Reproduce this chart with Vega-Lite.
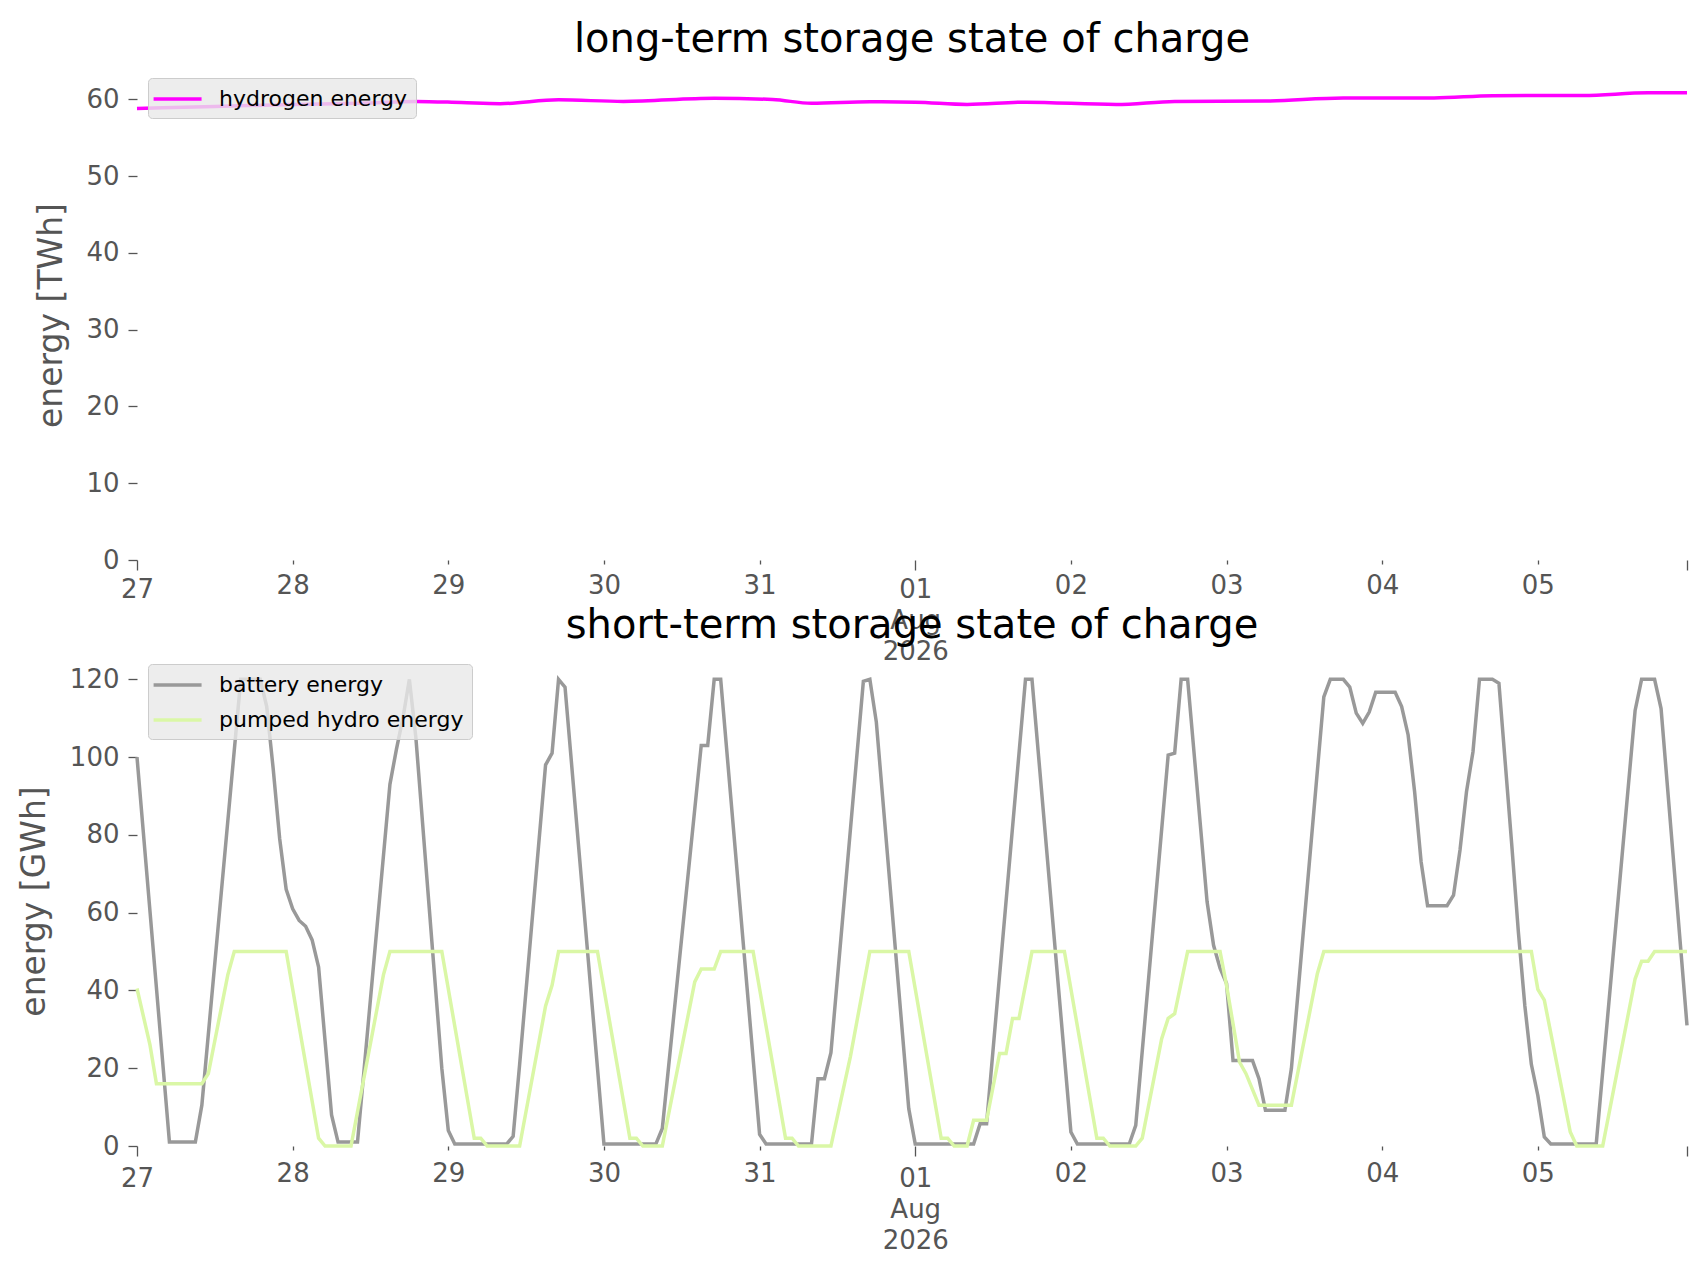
{
  "$schema": "https://vega.github.io/schema/vega-lite/v6.json",
  "background": "white",
  "padding": {"left": 18, "top": 19, "right": 5, "bottom": 5},
  "config": {
    "font": "DejaVu Sans",
    "view": {"stroke": null},
    "axis": {
      "domain": false, "grid": false,
      "labelColor": "#555555", "tickColor": "#555555", "titleColor": "#555555",
      "labelFontSize": 26, "titleFontSize": 33, "titleFontWeight": "normal",
      "labelFont": "DejaVu Sans", "titleFont": "DejaVu Sans", "tickWidth": 1.3
    },
    "title": {"fontSize": 40, "fontWeight": "normal", "color": "#000000", "font": "DejaVu Sans", "anchor": "middle", "baseline": "alphabetic", "offset": 10.5},
    "legend": {
      "title": null, "orient": "none", "legendX": 11, "legendY": 8,
      "fillColor": "rgba(232,232,232,0.8)", "strokeColor": "#cccccc", "cornerRadius": 4,
      "padding": 8, "symbolType": "M-1.4,0H2.96", "symbolSize": 484, "symbolStrokeWidth": 3.5,
      "labelFontSize": 22, "labelColor": "#000000", "labelFont": "DejaVu Sans",
      "labelOffset": 37, "rowPadding": 11, "labelLimit": 600
    }
  },
  "datasets": {
    "long": [
      {"time": "2026-07-27T00:00:00Z", "series": "hydrogen energy", "energy": 58.83},
      {"time": "2026-07-27T12:00:00Z", "series": "hydrogen energy", "energy": 59.1},
      {"time": "2026-07-28T00:00:00Z", "series": "hydrogen energy", "energy": 59.35},
      {"time": "2026-07-28T12:00:00Z", "series": "hydrogen energy", "energy": 59.55},
      {"time": "2026-07-28T19:00:00Z", "series": "hydrogen energy", "energy": 59.75},
      {"time": "2026-07-29T02:00:00Z", "series": "hydrogen energy", "energy": 59.6},
      {"time": "2026-07-29T08:00:00Z", "series": "hydrogen energy", "energy": 59.45},
      {"time": "2026-07-29T17:00:00Z", "series": "hydrogen energy", "energy": 59.95},
      {"time": "2026-07-30T03:00:00Z", "series": "hydrogen energy", "energy": 59.75},
      {"time": "2026-07-30T17:00:00Z", "series": "hydrogen energy", "energy": 60.15},
      {"time": "2026-07-31T02:00:00Z", "series": "hydrogen energy", "energy": 60.0},
      {"time": "2026-07-31T08:00:00Z", "series": "hydrogen energy", "energy": 59.5},
      {"time": "2026-07-31T17:00:00Z", "series": "hydrogen energy", "energy": 59.7},
      {"time": "2026-08-01T00:00:00Z", "series": "hydrogen energy", "energy": 59.65},
      {"time": "2026-08-01T08:00:00Z", "series": "hydrogen energy", "energy": 59.35},
      {"time": "2026-08-01T17:00:00Z", "series": "hydrogen energy", "energy": 59.65},
      {"time": "2026-08-02T07:00:00Z", "series": "hydrogen energy", "energy": 59.35},
      {"time": "2026-08-02T16:00:00Z", "series": "hydrogen energy", "energy": 59.75},
      {"time": "2026-08-03T06:00:00Z", "series": "hydrogen energy", "energy": 59.8},
      {"time": "2026-08-03T18:00:00Z", "series": "hydrogen energy", "energy": 60.2},
      {"time": "2026-08-04T08:00:00Z", "series": "hydrogen energy", "energy": 60.2},
      {"time": "2026-08-04T17:00:00Z", "series": "hydrogen energy", "energy": 60.5},
      {"time": "2026-08-05T07:00:00Z", "series": "hydrogen energy", "energy": 60.52},
      {"time": "2026-08-05T17:00:00Z", "series": "hydrogen energy", "energy": 60.87},
      {"time": "2026-08-05T23:00:00Z", "series": "hydrogen energy", "energy": 60.87}
    ],
    "short": [
      {"time": "2026-07-27T00:00:00Z", "series": "battery energy", "energy": 100},
      {"time": "2026-07-27T05:00:00Z", "series": "battery energy", "energy": 1},
      {"time": "2026-07-27T09:00:00Z", "series": "battery energy", "energy": 1},
      {"time": "2026-07-27T10:00:00Z", "series": "battery energy", "energy": 10.5},
      {"time": "2026-07-27T16:00:00Z", "series": "battery energy", "energy": 120},
      {"time": "2026-07-27T19:00:00Z", "series": "battery energy", "energy": 120},
      {"time": "2026-07-27T20:00:00Z", "series": "battery energy", "energy": 113},
      {"time": "2026-07-27T21:00:00Z", "series": "battery energy", "energy": 97},
      {"time": "2026-07-27T22:00:00Z", "series": "battery energy", "energy": 79},
      {"time": "2026-07-27T23:00:00Z", "series": "battery energy", "energy": 66},
      {"time": "2026-07-28T00:00:00Z", "series": "battery energy", "energy": 61},
      {"time": "2026-07-28T01:00:00Z", "series": "battery energy", "energy": 58},
      {"time": "2026-07-28T02:00:00Z", "series": "battery energy", "energy": 56.5},
      {"time": "2026-07-28T03:00:00Z", "series": "battery energy", "energy": 53},
      {"time": "2026-07-28T04:00:00Z", "series": "battery energy", "energy": 46},
      {"time": "2026-07-28T05:00:00Z", "series": "battery energy", "energy": 27},
      {"time": "2026-07-28T06:00:00Z", "series": "battery energy", "energy": 8},
      {"time": "2026-07-28T07:00:00Z", "series": "battery energy", "energy": 1},
      {"time": "2026-07-28T10:00:00Z", "series": "battery energy", "energy": 1},
      {"time": "2026-07-28T15:00:00Z", "series": "battery energy", "energy": 93},
      {"time": "2026-07-28T16:00:00Z", "series": "battery energy", "energy": 102},
      {"time": "2026-07-28T17:00:00Z", "series": "battery energy", "energy": 110},
      {"time": "2026-07-28T18:00:00Z", "series": "battery energy", "energy": 120},
      {"time": "2026-07-28T19:00:00Z", "series": "battery energy", "energy": 105},
      {"time": "2026-07-28T23:00:00Z", "series": "battery energy", "energy": 20},
      {"time": "2026-07-29T00:00:00Z", "series": "battery energy", "energy": 4},
      {"time": "2026-07-29T01:00:00Z", "series": "battery energy", "energy": 0.5},
      {"time": "2026-07-29T09:00:00Z", "series": "battery energy", "energy": 0.5},
      {"time": "2026-07-29T10:00:00Z", "series": "battery energy", "energy": 2.5},
      {"time": "2026-07-29T11:00:00Z", "series": "battery energy", "energy": 21},
      {"time": "2026-07-29T15:00:00Z", "series": "battery energy", "energy": 98},
      {"time": "2026-07-29T16:00:00Z", "series": "battery energy", "energy": 101},
      {"time": "2026-07-29T17:00:00Z", "series": "battery energy", "energy": 120},
      {"time": "2026-07-29T18:00:00Z", "series": "battery energy", "energy": 118},
      {"time": "2026-07-30T00:00:00Z", "series": "battery energy", "energy": 0.5},
      {"time": "2026-07-30T08:00:00Z", "series": "battery energy", "energy": 0.5},
      {"time": "2026-07-30T09:00:00Z", "series": "battery energy", "energy": 4.5},
      {"time": "2026-07-30T15:00:00Z", "series": "battery energy", "energy": 103},
      {"time": "2026-07-30T16:00:00Z", "series": "battery energy", "energy": 103},
      {"time": "2026-07-30T17:00:00Z", "series": "battery energy", "energy": 120},
      {"time": "2026-07-30T18:00:00Z", "series": "battery energy", "energy": 120},
      {"time": "2026-07-31T00:00:00Z", "series": "battery energy", "energy": 3},
      {"time": "2026-07-31T01:00:00Z", "series": "battery energy", "energy": 0.5},
      {"time": "2026-07-31T08:00:00Z", "series": "battery energy", "energy": 0.5},
      {"time": "2026-07-31T09:00:00Z", "series": "battery energy", "energy": 17.3},
      {"time": "2026-07-31T10:00:00Z", "series": "battery energy", "energy": 17.3},
      {"time": "2026-07-31T11:00:00Z", "series": "battery energy", "energy": 24},
      {"time": "2026-07-31T16:00:00Z", "series": "battery energy", "energy": 119.5},
      {"time": "2026-07-31T17:00:00Z", "series": "battery energy", "energy": 120},
      {"time": "2026-07-31T18:00:00Z", "series": "battery energy", "energy": 109},
      {"time": "2026-07-31T23:00:00Z", "series": "battery energy", "energy": 9.6},
      {"time": "2026-08-01T00:00:00Z", "series": "battery energy", "energy": 0.5},
      {"time": "2026-08-01T09:00:00Z", "series": "battery energy", "energy": 0.5},
      {"time": "2026-08-01T10:00:00Z", "series": "battery energy", "energy": 5.7},
      {"time": "2026-08-01T11:00:00Z", "series": "battery energy", "energy": 5.7},
      {"time": "2026-08-01T17:00:00Z", "series": "battery energy", "energy": 120},
      {"time": "2026-08-01T18:00:00Z", "series": "battery energy", "energy": 120},
      {"time": "2026-08-02T00:00:00Z", "series": "battery energy", "energy": 3.6},
      {"time": "2026-08-02T01:00:00Z", "series": "battery energy", "energy": 0.5},
      {"time": "2026-08-02T09:00:00Z", "series": "battery energy", "energy": 0.5},
      {"time": "2026-08-02T10:00:00Z", "series": "battery energy", "energy": 5.3},
      {"time": "2026-08-02T15:00:00Z", "series": "battery energy", "energy": 100.5},
      {"time": "2026-08-02T16:00:00Z", "series": "battery energy", "energy": 101},
      {"time": "2026-08-02T17:00:00Z", "series": "battery energy", "energy": 120},
      {"time": "2026-08-02T18:00:00Z", "series": "battery energy", "energy": 120},
      {"time": "2026-08-02T21:00:00Z", "series": "battery energy", "energy": 62.8},
      {"time": "2026-08-02T22:00:00Z", "series": "battery energy", "energy": 51.6},
      {"time": "2026-08-02T23:00:00Z", "series": "battery energy", "energy": 45.7},
      {"time": "2026-08-03T00:00:00Z", "series": "battery energy", "energy": 41.8},
      {"time": "2026-08-03T01:00:00Z", "series": "battery energy", "energy": 22},
      {"time": "2026-08-03T04:00:00Z", "series": "battery energy", "energy": 22},
      {"time": "2026-08-03T05:00:00Z", "series": "battery energy", "energy": 17.3},
      {"time": "2026-08-03T06:00:00Z", "series": "battery energy", "energy": 9.2},
      {"time": "2026-08-03T09:00:00Z", "series": "battery energy", "energy": 9.2},
      {"time": "2026-08-03T10:00:00Z", "series": "battery energy", "energy": 19.9},
      {"time": "2026-08-03T15:00:00Z", "series": "battery energy", "energy": 115.5},
      {"time": "2026-08-03T16:00:00Z", "series": "battery energy", "energy": 120},
      {"time": "2026-08-03T18:00:00Z", "series": "battery energy", "energy": 120},
      {"time": "2026-08-03T19:00:00Z", "series": "battery energy", "energy": 118},
      {"time": "2026-08-03T20:00:00Z", "series": "battery energy", "energy": 111.3},
      {"time": "2026-08-03T21:00:00Z", "series": "battery energy", "energy": 108.7},
      {"time": "2026-08-03T22:00:00Z", "series": "battery energy", "energy": 111.6},
      {"time": "2026-08-03T23:00:00Z", "series": "battery energy", "energy": 116.7},
      {"time": "2026-08-04T02:00:00Z", "series": "battery energy", "energy": 116.7},
      {"time": "2026-08-04T03:00:00Z", "series": "battery energy", "energy": 113},
      {"time": "2026-08-04T04:00:00Z", "series": "battery energy", "energy": 105.7},
      {"time": "2026-08-04T05:00:00Z", "series": "battery energy", "energy": 91.1},
      {"time": "2026-08-04T06:00:00Z", "series": "battery energy", "energy": 73.1},
      {"time": "2026-08-04T07:00:00Z", "series": "battery energy", "energy": 61.8},
      {"time": "2026-08-04T10:00:00Z", "series": "battery energy", "energy": 61.8},
      {"time": "2026-08-04T11:00:00Z", "series": "battery energy", "energy": 64.5},
      {"time": "2026-08-04T12:00:00Z", "series": "battery energy", "energy": 76.1},
      {"time": "2026-08-04T13:00:00Z", "series": "battery energy", "energy": 91.1},
      {"time": "2026-08-04T14:00:00Z", "series": "battery energy", "energy": 101.4},
      {"time": "2026-08-04T15:00:00Z", "series": "battery energy", "energy": 120},
      {"time": "2026-08-04T17:00:00Z", "series": "battery energy", "energy": 120},
      {"time": "2026-08-04T18:00:00Z", "series": "battery energy", "energy": 119},
      {"time": "2026-08-04T19:00:00Z", "series": "battery energy", "energy": 98},
      {"time": "2026-08-04T20:00:00Z", "series": "battery energy", "energy": 77},
      {"time": "2026-08-04T21:00:00Z", "series": "battery energy", "energy": 55},
      {"time": "2026-08-04T22:00:00Z", "series": "battery energy", "energy": 36},
      {"time": "2026-08-04T23:00:00Z", "series": "battery energy", "energy": 21},
      {"time": "2026-08-05T00:00:00Z", "series": "battery energy", "energy": 13},
      {"time": "2026-08-05T01:00:00Z", "series": "battery energy", "energy": 2.3},
      {"time": "2026-08-05T02:00:00Z", "series": "battery energy", "energy": 0.5},
      {"time": "2026-08-05T09:00:00Z", "series": "battery energy", "energy": 0.5},
      {"time": "2026-08-05T15:00:00Z", "series": "battery energy", "energy": 112},
      {"time": "2026-08-05T16:00:00Z", "series": "battery energy", "energy": 120},
      {"time": "2026-08-05T18:00:00Z", "series": "battery energy", "energy": 120},
      {"time": "2026-08-05T19:00:00Z", "series": "battery energy", "energy": 112.5},
      {"time": "2026-08-05T23:00:00Z", "series": "battery energy", "energy": 31},
      {"time": "2026-07-27T00:00:00Z", "series": "pumped hydro energy", "energy": 40.5},
      {"time": "2026-07-27T02:00:00Z", "series": "pumped hydro energy", "energy": 26},
      {"time": "2026-07-27T03:00:00Z", "series": "pumped hydro energy", "energy": 16},
      {"time": "2026-07-27T10:00:00Z", "series": "pumped hydro energy", "energy": 16},
      {"time": "2026-07-27T11:00:00Z", "series": "pumped hydro energy", "energy": 18.6},
      {"time": "2026-07-27T14:00:00Z", "series": "pumped hydro energy", "energy": 44},
      {"time": "2026-07-27T15:00:00Z", "series": "pumped hydro energy", "energy": 50},
      {"time": "2026-07-27T23:00:00Z", "series": "pumped hydro energy", "energy": 50},
      {"time": "2026-07-28T04:00:00Z", "series": "pumped hydro energy", "energy": 2},
      {"time": "2026-07-28T05:00:00Z", "series": "pumped hydro energy", "energy": 0},
      {"time": "2026-07-28T09:00:00Z", "series": "pumped hydro energy", "energy": 0},
      {"time": "2026-07-28T14:00:00Z", "series": "pumped hydro energy", "energy": 44},
      {"time": "2026-07-28T15:00:00Z", "series": "pumped hydro energy", "energy": 50},
      {"time": "2026-07-28T23:00:00Z", "series": "pumped hydro energy", "energy": 50},
      {"time": "2026-07-29T04:00:00Z", "series": "pumped hydro energy", "energy": 2},
      {"time": "2026-07-29T05:00:00Z", "series": "pumped hydro energy", "energy": 2},
      {"time": "2026-07-29T06:00:00Z", "series": "pumped hydro energy", "energy": 0},
      {"time": "2026-07-29T11:00:00Z", "series": "pumped hydro energy", "energy": 0},
      {"time": "2026-07-29T15:00:00Z", "series": "pumped hydro energy", "energy": 36},
      {"time": "2026-07-29T16:00:00Z", "series": "pumped hydro energy", "energy": 41.3},
      {"time": "2026-07-29T17:00:00Z", "series": "pumped hydro energy", "energy": 50},
      {"time": "2026-07-29T23:00:00Z", "series": "pumped hydro energy", "energy": 50},
      {"time": "2026-07-30T04:00:00Z", "series": "pumped hydro energy", "energy": 2},
      {"time": "2026-07-30T05:00:00Z", "series": "pumped hydro energy", "energy": 2},
      {"time": "2026-07-30T06:00:00Z", "series": "pumped hydro energy", "energy": 0},
      {"time": "2026-07-30T09:00:00Z", "series": "pumped hydro energy", "energy": 0},
      {"time": "2026-07-30T14:00:00Z", "series": "pumped hydro energy", "energy": 42.2},
      {"time": "2026-07-30T15:00:00Z", "series": "pumped hydro energy", "energy": 45.5},
      {"time": "2026-07-30T17:00:00Z", "series": "pumped hydro energy", "energy": 45.5},
      {"time": "2026-07-30T18:00:00Z", "series": "pumped hydro energy", "energy": 50},
      {"time": "2026-07-30T23:00:00Z", "series": "pumped hydro energy", "energy": 50},
      {"time": "2026-07-31T04:00:00Z", "series": "pumped hydro energy", "energy": 2},
      {"time": "2026-07-31T05:00:00Z", "series": "pumped hydro energy", "energy": 2},
      {"time": "2026-07-31T06:00:00Z", "series": "pumped hydro energy", "energy": 0},
      {"time": "2026-07-31T11:00:00Z", "series": "pumped hydro energy", "energy": 0},
      {"time": "2026-07-31T14:00:00Z", "series": "pumped hydro energy", "energy": 23},
      {"time": "2026-07-31T17:00:00Z", "series": "pumped hydro energy", "energy": 50},
      {"time": "2026-07-31T23:00:00Z", "series": "pumped hydro energy", "energy": 50},
      {"time": "2026-08-01T04:00:00Z", "series": "pumped hydro energy", "energy": 2},
      {"time": "2026-08-01T05:00:00Z", "series": "pumped hydro energy", "energy": 2},
      {"time": "2026-08-01T06:00:00Z", "series": "pumped hydro energy", "energy": 0},
      {"time": "2026-08-01T08:00:00Z", "series": "pumped hydro energy", "energy": 0},
      {"time": "2026-08-01T09:00:00Z", "series": "pumped hydro energy", "energy": 6.6},
      {"time": "2026-08-01T11:00:00Z", "series": "pumped hydro energy", "energy": 6.6},
      {"time": "2026-08-01T13:00:00Z", "series": "pumped hydro energy", "energy": 23.8},
      {"time": "2026-08-01T14:00:00Z", "series": "pumped hydro energy", "energy": 23.8},
      {"time": "2026-08-01T15:00:00Z", "series": "pumped hydro energy", "energy": 32.8},
      {"time": "2026-08-01T16:00:00Z", "series": "pumped hydro energy", "energy": 32.8},
      {"time": "2026-08-01T18:00:00Z", "series": "pumped hydro energy", "energy": 50},
      {"time": "2026-08-01T23:00:00Z", "series": "pumped hydro energy", "energy": 50},
      {"time": "2026-08-02T04:00:00Z", "series": "pumped hydro energy", "energy": 2},
      {"time": "2026-08-02T05:00:00Z", "series": "pumped hydro energy", "energy": 2},
      {"time": "2026-08-02T06:00:00Z", "series": "pumped hydro energy", "energy": 0},
      {"time": "2026-08-02T10:00:00Z", "series": "pumped hydro energy", "energy": 0},
      {"time": "2026-08-02T11:00:00Z", "series": "pumped hydro energy", "energy": 2},
      {"time": "2026-08-02T14:00:00Z", "series": "pumped hydro energy", "energy": 27.6},
      {"time": "2026-08-02T15:00:00Z", "series": "pumped hydro energy", "energy": 32.8},
      {"time": "2026-08-02T16:00:00Z", "series": "pumped hydro energy", "energy": 34},
      {"time": "2026-08-02T18:00:00Z", "series": "pumped hydro energy", "energy": 50},
      {"time": "2026-08-02T23:00:00Z", "series": "pumped hydro energy", "energy": 50},
      {"time": "2026-08-03T00:00:00Z", "series": "pumped hydro energy", "energy": 41.3},
      {"time": "2026-08-03T02:00:00Z", "series": "pumped hydro energy", "energy": 21.6},
      {"time": "2026-08-03T03:00:00Z", "series": "pumped hydro energy", "energy": 18.6},
      {"time": "2026-08-03T05:00:00Z", "series": "pumped hydro energy", "energy": 10.5},
      {"time": "2026-08-03T10:00:00Z", "series": "pumped hydro energy", "energy": 10.5},
      {"time": "2026-08-03T14:00:00Z", "series": "pumped hydro energy", "energy": 44.3},
      {"time": "2026-08-03T15:00:00Z", "series": "pumped hydro energy", "energy": 50},
      {"time": "2026-08-04T23:00:00Z", "series": "pumped hydro energy", "energy": 50},
      {"time": "2026-08-05T00:00:00Z", "series": "pumped hydro energy", "energy": 40.3},
      {"time": "2026-08-05T01:00:00Z", "series": "pumped hydro energy", "energy": 37.5},
      {"time": "2026-08-05T05:00:00Z", "series": "pumped hydro energy", "energy": 3.6},
      {"time": "2026-08-05T06:00:00Z", "series": "pumped hydro energy", "energy": 0},
      {"time": "2026-08-05T10:00:00Z", "series": "pumped hydro energy", "energy": 0},
      {"time": "2026-08-05T15:00:00Z", "series": "pumped hydro energy", "energy": 43},
      {"time": "2026-08-05T16:00:00Z", "series": "pumped hydro energy", "energy": 47.5},
      {"time": "2026-08-05T17:00:00Z", "series": "pumped hydro energy", "energy": 47.5},
      {"time": "2026-08-05T18:00:00Z", "series": "pumped hydro energy", "energy": 50},
      {"time": "2026-08-05T23:00:00Z", "series": "pumped hydro energy", "energy": 50}
    ]
  },
  "bounds": "flush",
  "spacing": 96,
  "resolve": {"scale": {"color": "independent"}, "legend": {"color": "independent"}},
  "vconcat": [
    {
      "width": 1550,
      "height": 490,
      "title": {"text": "long-term storage state of charge"},
      "data": {"name": "long"},
      "mark": {"type": "line", "interpolate": "monotone", "strokeWidth": 3.5},
      "encoding": {
        "x": {
          "field": "time", "type": "temporal",
          "scale": {"type": "utc", "nice": false, "domain": [
            {"year": 2026, "month": 7, "date": 27, "utc": true},
            {"year": 2026, "month": 8, "date": 5, "hours": 23, "utc": true}
          ]},
          "axis": {
            "title": null,
            "values": [
              {"year": 2026, "month": 7, "date": 27, "utc": true},
              {"year": 2026, "month": 7, "date": 28, "utc": true},
              {"year": 2026, "month": 7, "date": 29, "utc": true},
              {"year": 2026, "month": 7, "date": 30, "utc": true},
              {"year": 2026, "month": 7, "date": 31, "utc": true},
              {"year": 2026, "month": 8, "date": 1, "utc": true},
              {"year": 2026, "month": 8, "date": 2, "utc": true},
              {"year": 2026, "month": 8, "date": 3, "utc": true},
              {"year": 2026, "month": 8, "date": 4, "utc": true},
              {"year": 2026, "month": 8, "date": 5, "utc": true},
              {"year": 2026, "month": 8, "date": 5, "hours": 23, "utc": true}
            ],
            "labelExpr": "utchours(datum.value) == 23 ? '' : (utcdate(datum.value) == 1 ? ['01', 'Aug', '2026'] : utcFormat(datum.value, '%d'))",
            "tickSize": {"condition": {"test": "utcdate(datum.value) == 27 || utcdate(datum.value) == 1 || utchours(datum.value) == 23", "value": 10}, "value": 4},
            "labelPadding": {"condition": {"test": "utcdate(datum.value) == 27 || utcdate(datum.value) == 1", "value": 6.5}, "value": 8},
            "labelLineHeight": 31,
            "labelFlush": false,
            "labelOverlap": false,
            "labelBaseline": "top"
          }
        },
        "y": {
          "field": "energy", "type": "quantitative",
          "scale": {"domain": [0, 63.84], "nice": false},
          "axis": {"title": "energy [TWh]", "values": [0, 10, 20, 30, 40, 50, 60], "tickSize": 9, "labelPadding": 9, "titlePadding": 17.5}
        },
        "color": {
          "field": "series", "type": "nominal",
          "scale": {"domain": ["hydrogen energy"], "range": ["#ff00ff"]}
        }
      }
    },
    {
      "width": 1550,
      "height": 490,
      "title": {"text": "short-term storage state of charge"},
      "data": {"name": "short"},
      "mark": {"type": "line", "strokeWidth": 3.5},
      "encoding": {
        "x": {
          "field": "time", "type": "temporal",
          "scale": {"type": "utc", "nice": false, "domain": [
            {"year": 2026, "month": 7, "date": 27, "utc": true},
            {"year": 2026, "month": 8, "date": 5, "hours": 23, "utc": true}
          ]},
          "axis": {
            "title": null,
            "values": [
              {"year": 2026, "month": 7, "date": 27, "utc": true},
              {"year": 2026, "month": 7, "date": 28, "utc": true},
              {"year": 2026, "month": 7, "date": 29, "utc": true},
              {"year": 2026, "month": 7, "date": 30, "utc": true},
              {"year": 2026, "month": 7, "date": 31, "utc": true},
              {"year": 2026, "month": 8, "date": 1, "utc": true},
              {"year": 2026, "month": 8, "date": 2, "utc": true},
              {"year": 2026, "month": 8, "date": 3, "utc": true},
              {"year": 2026, "month": 8, "date": 4, "utc": true},
              {"year": 2026, "month": 8, "date": 5, "utc": true},
              {"year": 2026, "month": 8, "date": 5, "hours": 23, "utc": true}
            ],
            "labelExpr": "utchours(datum.value) == 23 ? '' : (utcdate(datum.value) == 1 ? ['01', 'Aug', '2026'] : utcFormat(datum.value, '%d'))",
            "tickSize": {"condition": {"test": "utcdate(datum.value) == 27 || utcdate(datum.value) == 1 || utchours(datum.value) == 23", "value": 10}, "value": 4},
            "labelPadding": {"condition": {"test": "utcdate(datum.value) == 27 || utcdate(datum.value) == 1", "value": 9}, "value": 10},
            "labelLineHeight": 31,
            "labelFlush": false,
            "labelOverlap": false,
            "labelBaseline": "top"
          }
        },
        "y": {
          "field": "energy", "type": "quantitative",
          "scale": {"domain": [0, 126], "nice": false},
          "axis": {"title": "energy [GWh]", "values": [0, 20, 40, 60, 80, 100, 120], "tickSize": 9, "labelPadding": 9, "titlePadding": 17.5}
        },
        "color": {
          "field": "series", "type": "nominal",
          "scale": {"domain": ["battery energy", "pumped hydro energy"], "range": ["#999999", "#daf7a6"]}
        }
      }
    }
  ]
}
